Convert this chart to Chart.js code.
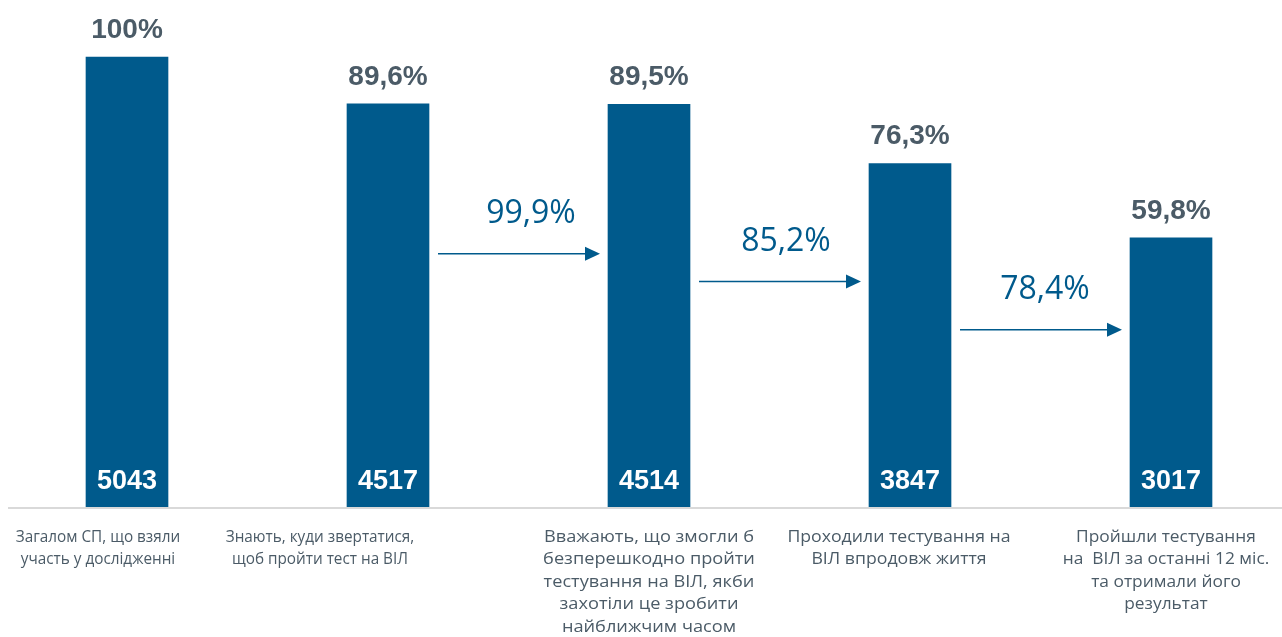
<!DOCTYPE html>
<html>
<head>
<meta charset="utf-8">
<script src="https://cdn.jsdelivr.net/npm/chart.js@4.4.1/dist/chart.umd.min.js"></script>
<style>
  html, body { margin: 0; padding: 0; background: #fff; }
  #wrap { width: 1282px; height: 637px; position: relative; }
</style>
</head>
<body>
<div id="wrap"><canvas id="funnelChart"></canvas></div>
<script>
const categories = [
    ['Загалом СП, що взяли', 'участь у дослідженні'],
    ['Знають, куди звертатися,', 'щоб пройти тест на ВІЛ'],
    ['Вважають, що змогли б', 'безперешкодно пройти', 'тестування на ВІЛ, якби', 'захотіли це зробити', 'найближчим часом'],
    ['Проходили тестування на', 'ВІЛ впродовж життя'],
    ['Пройшли тестування', 'на  ВІЛ за останні 12 міс.', 'та отримали його', 'результат']
];
const shares = [100, 89.6, 89.5, 76.3, 59.8];
const counts = [5043, 4517, 4514, 3847, 3017];
// conversion from bar i to bar i+1
const conversionFrom = [1, 2, 3];
const conversions = [99.9, 85.2, 78.4];

const BAR_COLOR = '#005a8c';
const LABEL_GREY = '#4b5b67';

function fmtPct(v) {
    return (Number.isInteger(v) ? String(v) : v.toFixed(1).replace('.', ',')) + '%';
}

const funnelLabels = {
    id: 'funnelLabels',
    afterDatasetsDraw(chart, args, opts) {
        const ctx = chart.ctx;
        const meta = chart.getDatasetMeta(0);
        const yScale = chart.scales.y;
        ctx.save();
        ctx.textAlign = 'center';
        ctx.textBaseline = 'middle';

        meta.data.forEach((bar, i) => {
            ctx.fillStyle = LABEL_GREY;
            ctx.font = 'bold 28px "Liberation Sans", Arial, sans-serif';
            ctx.fillText(fmtPct(shares[i]), bar.x, bar.y - 27);

            ctx.fillStyle = '#ffffff';
            ctx.font = 'bold 27px "Liberation Sans", Arial, sans-serif';
            ctx.fillText(String(counts[i]), bar.x, bar.base - 25);

            // category label under the bar (the first two are a bit condensed in the original)
            ctx.fillStyle = LABEL_GREY;
            ctx.font = '17px "Open Sans", sans-serif';
            const cx = bar.x + opts.labelShift[i];
            categories[i].forEach((line, j) => {
                ctx.save();
                ctx.translate(cx, bar.base + 30 + j * 22.5);
                ctx.scale(opts.labelStretch[i], 1);
                ctx.fillText(line, 0, 0);
                ctx.restore();
            });
        });

        // conversion arrows between bars
        conversionFrom.forEach((from, k) => {
            const a = meta.data[from];
            const b = meta.data[from + 1];
            const y = yScale.getPixelForValue(opts.arrowLevels[k]);
            const x1 = a.x + a.width / 2 + 9;
            const x2 = b.x - b.width / 2 - 8;
            ctx.strokeStyle = BAR_COLOR;
            ctx.fillStyle = BAR_COLOR;
            ctx.lineWidth = 1.5;
            ctx.beginPath();
            ctx.moveTo(x1, y);
            ctx.lineTo(x2 - 12, y);
            ctx.stroke();
            ctx.beginPath();
            ctx.moveTo(x2, y);
            ctx.lineTo(x2 - 15, y - 7);
            ctx.lineTo(x2 - 15, y + 7);
            ctx.closePath();
            ctx.fill();

            ctx.font = '32px "Open Sans", sans-serif';
            ctx.fillText(fmtPct(conversions[k]), (x1 + x2) / 2 + opts.arrowTextShift[k], y - 40);
        });

        // baseline
        ctx.strokeStyle = '#d9d9d9';
        ctx.lineWidth = 2;
        ctx.beginPath();
        ctx.moveTo(8, yScale.bottom + 1);
        ctx.lineTo(chart.width, yScale.bottom + 1);
        ctx.stroke();
        ctx.restore();
    }
};

const ctx = document.getElementById('funnelChart').getContext('2d');
new Chart(ctx, {
    type: 'bar',
    data: {
        labels: categories,
        datasets: [{
            data: shares,
            backgroundColor: BAR_COLOR,
            borderWidth: 0,
            barThickness: 82,
            clip: false
        }]
    },
    options: {
        responsive: true,
        maintainAspectRatio: false,
        animation: false,
        layout: { padding: { left: 127, right: 111, top: 57, bottom: 0 } },
        scales: {
            x: {
                offset: false,
                grid: { display: false, drawTicks: false },
                border: { display: false },
                ticks: { display: false },
                afterFit(scale) { scale.height = 130; }
            },
            y: {
                display: false,
                min: 0,
                max: 100
            }
        },
        plugins: {
            legend: { display: false },
            tooltip: { enabled: false },
            funnelLabels: {
                arrowLevels: [56.3, 50.1, 39.4],
                arrowTextShift: [12, 6, 4],
                labelShift: [-29, -68, 0, -11, -5],
                labelStretch: [0.9, 0.9, 1.07, 1.04, 1.02]
            }
        }
    },
    plugins: [funnelLabels]
});
</script>
</body>
</html>
